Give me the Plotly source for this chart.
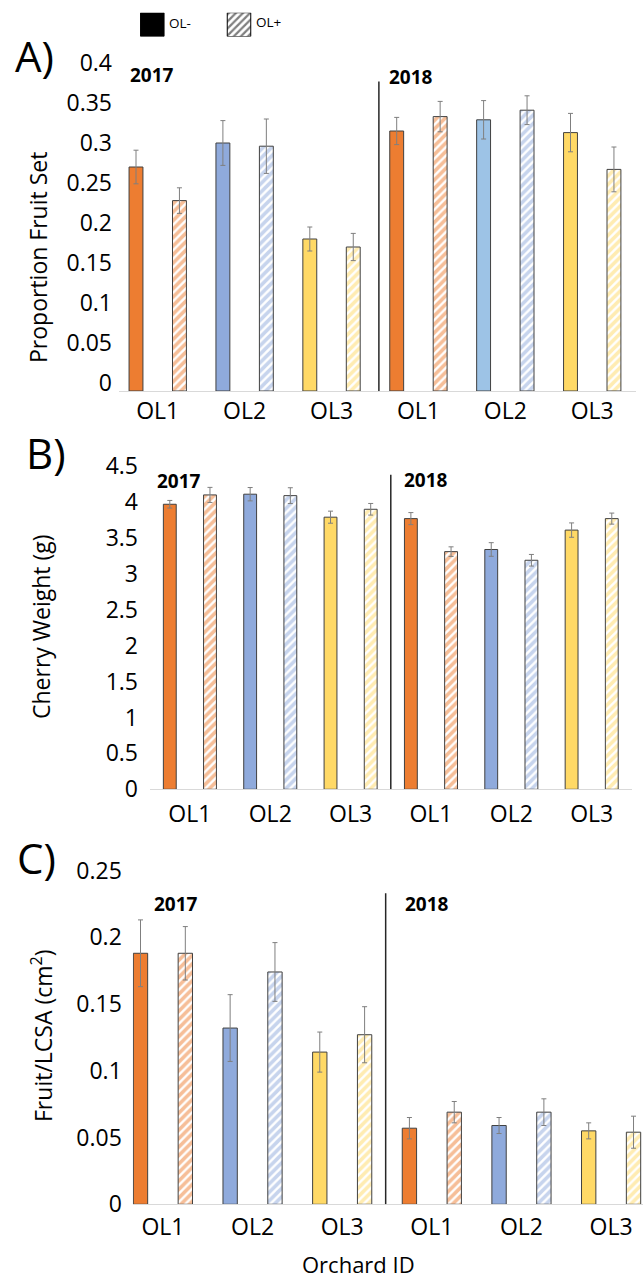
import plotly.graph_objects as go

# ---------------- data ----------------
orchards = ["OL1", "OL2", "OL3"]
years = ["2017", "2018"]
tick_text = orchards + orchards

# Panel A: Proportion fruit set (order: 2017 OL1..OL3, 2018 OL1..OL3)
A_minus = [0.280, 0.310, 0.190, 0.325, 0.339, 0.323]
A_minus_err = [0.021, 0.028, 0.015, 0.017, 0.024, 0.024]
A_plus = [0.238, 0.306, 0.180, 0.343, 0.351, 0.277]
A_plus_err = [0.016, 0.034, 0.017, 0.019, 0.018, 0.028]

# Panel B: Cherry weight (g)
B_minus = [3.97, 4.11, 3.79, 3.77, 3.34, 3.61]
B_minus_err = [0.053, 0.093, 0.084, 0.084, 0.095, 0.100]
B_plus = [4.10, 4.09, 3.90, 3.31, 3.19, 3.77]
B_plus_err = [0.105, 0.110, 0.081, 0.067, 0.081, 0.077]

# Panel C: Fruit / LCSA (cm2)
C_minus = [0.188, 0.132, 0.114, 0.057, 0.059, 0.055]
C_minus_err = [0.025, 0.025, 0.015, 0.008, 0.006, 0.006]
C_plus = [0.188, 0.174, 0.127, 0.069, 0.069, 0.054]
C_plus_err = [0.020, 0.022, 0.021, 0.008, 0.010, 0.012]

legend_names = ["OL-", "OL+"]

# ---------------- styling ----------------
W, H = 643, 1280
FONT = "Open Sans"
ORANGE, BLUE, BLUE_LT, YELLOW = "#ED7D31", "#8FAADC", "#9DC3E6", "#FFD966"
colors_std = [ORANGE, BLUE, YELLOW, ORANGE, BLUE, YELLOW]
colors_A = [ORANGE, BLUE, YELLOW, ORANGE, BLUE_LT, YELLOW]
outline = "#404040"


def fx(p):
    return p / W


def fy(p):
    return 1 - p / H


x_minus = [0, 2, 4, 6, 8, 10]
x_plus = [1, 3, 5, 7, 9, 11]
tick_vals = [0.5, 2.5, 4.5, 6.5, 8.5, 10.5]

fig = go.Figure()

panels = [
    ("", A_minus, A_minus_err, A_plus, A_plus_err, colors_A, colors_std),
    ("2", B_minus, B_minus_err, B_plus, B_plus_err, colors_std, colors_std),
    ("3", C_minus, C_minus_err, C_plus, C_plus_err, colors_std, colors_std),
]

BW = 0.32
for suf, mv, me, pv, pe, cols, pcols in panels:
    fig.add_trace(go.Bar(
        x=x_minus, y=mv, width=BW, xaxis="x" + suf, yaxis="y" + suf,
        name=legend_names[0], showlegend=False,
        marker=dict(color=cols, line=dict(color=outline, width=1)),
        error_y=dict(type="data", array=me, visible=True, color="#7f7f7f",
                     thickness=1, width=2.5),
    ))
    fig.add_trace(go.Bar(
        x=x_plus, y=pv, width=BW, xaxis="x" + suf, yaxis="y" + suf,
        name=legend_names[1], showlegend=False,
        marker=dict(color="white", line=dict(color=outline, width=1),
                    pattern=dict(shape="/", fgcolor=pcols, bgcolor="white",
                                 size=6, solidity=0.6)),
        error_y=dict(type="data", array=pe, visible=True, color="#7f7f7f",
                     thickness=1, width=2.5),
    ))

# legend swatches drawn as bars on a tiny axis
fig.add_trace(go.Bar(x=[0], y=[1], width=0.271, xaxis="x4", yaxis="y4",
                     showlegend=False, name=legend_names[0],
                     marker=dict(color="black", line=dict(color="black", width=1))))
fig.add_trace(go.Bar(x=[1], y=[1], width=0.271, xaxis="x4", yaxis="y4",
                     showlegend=False, name=legend_names[1],
                     marker=dict(color="white", line=dict(color="black", width=1),
                                 pattern=dict(shape="/", fgcolor="black",
                                              bgcolor="white", size=5, solidity=0.45))))

tickfont = dict(family=FONT, size=23, color="#000000")


def xaxis(L, R, c0, s, standoff):
    return dict(domain=[fx(L), fx(R)], range=[(L - c0) / s, (R - c0) / s],
                tickvals=tick_vals, ticktext=tick_text, ticks="",
                showgrid=False, zeroline=False, showline=True,
                linecolor="#d9d9d9", linewidth=1, tickfont=tickfont,
                ticklabelstandoff=standoff, fixedrange=True, automargin=False)


def yaxis(bottom, top, rng, dtick, standoff, shift, anchor):
    return dict(domain=[fy(bottom), fy(top)], range=rng, dtick=dtick,
                ticks="", showgrid=False, zeroline=False, showline=False,
                tickfont=tickfont, ticklabelstandoff=standoff,
                ticklabelshift=shift, anchor=anchor, fixedrange=True,
                automargin=False)


fig.update_layout(
    width=W, height=H, autosize=False,
    margin=dict(l=0, r=0, t=0, b=0, pad=0),
    paper_bgcolor="white", plot_bgcolor="rgba(0,0,0,0)",
    barmode="overlay", showlegend=False,
    font=dict(family=FONT, color="#000000"),
    xaxis=dict(**xaxis(119, 636, 136, 43.45, -1), anchor="y"),
    yaxis=yaxis(391, 71, [0, 0.4], 0.05, 6, -8, "x"),
    xaxis2=dict(**xaxis(150, 632, 169.8, 40.18, 4), anchor="y2"),
    yaxis2=yaxis(789.3, 466.2, [0, 4.5], 0.5, 11, 0, "x2"),
    xaxis3=dict(**xaxis(132.8, 643, 140.5, 44.82, 2), anchor="y3"),
    yaxis3=yaxis(1204.3, 870.5, [0, 0.25], 0.05, 10, 0, "x3"),
    xaxis4=dict(domain=[fx(108.95), fx(282.35)], range=[-0.5, 1.5], visible=False,
                anchor="y4", fixedrange=True, automargin=False),
    yaxis4=dict(domain=[fy(36.5), fy(12.7)], range=[0, 1], visible=False,
                anchor="x4", fixedrange=True, automargin=False),
)

# year dividers
shapes = []
for xr, yr, xv, ytop in [("x", "y", 5.59, 0.387), ("x2", "y2", 5.50, 4.38),
                         ("x3", "y3", 5.47, 0.233)]:
    shapes.append(dict(type="line", xref=xr, yref=yr, x0=xv, x1=xv, y0=0, y1=ytop,
                       line=dict(color="#262626", width=1.5)))
fig.update_layout(shapes=shapes)

ann = []


def txt(text, x, y, size, bold=False, angle=0, xanchor="center"):
    ann.append(dict(text=f"<b>{text}</b>" if bold else text, x=fx(x), y=fy(y),
                    xref="paper", yref="paper", showarrow=False,
                    xanchor=xanchor, yanchor="middle", textangle=angle,
                    font=dict(family=FONT, size=size, color="#000000")))


txt("A)", 34, 55, 42)
txt("B)", 46, 452, 42)
txt("C)", 36, 857, 42)
txt(years[0], 151.7, 74.5, 19, bold=True)
txt(years[1], 410.5, 76.7, 19, bold=True)
txt(years[0], 179, 481, 19, bold=True)
txt(years[1], 426, 480, 19, bold=True)
txt(years[0], 176, 904, 19, bold=True)
txt(years[1], 426.7, 904, 19, bold=True)
txt("Proportion Fruit Set", 38, 258, 23, angle=-90)
txt("Cherry Weight (g)", 41, 627, 23, angle=-90)
txt("Fruit/LCSA (cm<sup>2</sup>)", 42, 1036, 23, angle=-90)
txt("Orchard ID", 358, 1264, 22)
txt(legend_names[0], 167, 23, 13.5, xanchor="left")
txt(legend_names[1], 254, 21.7, 13.5, xanchor="left")
fig.update_layout(annotations=ann)

fig.write_html("out.html",
               config={"displayModeBar": False, "staticPlot": True},
               post_script="document.body.style.margin='0';"
                           "document.body.style.overflow='hidden';")
